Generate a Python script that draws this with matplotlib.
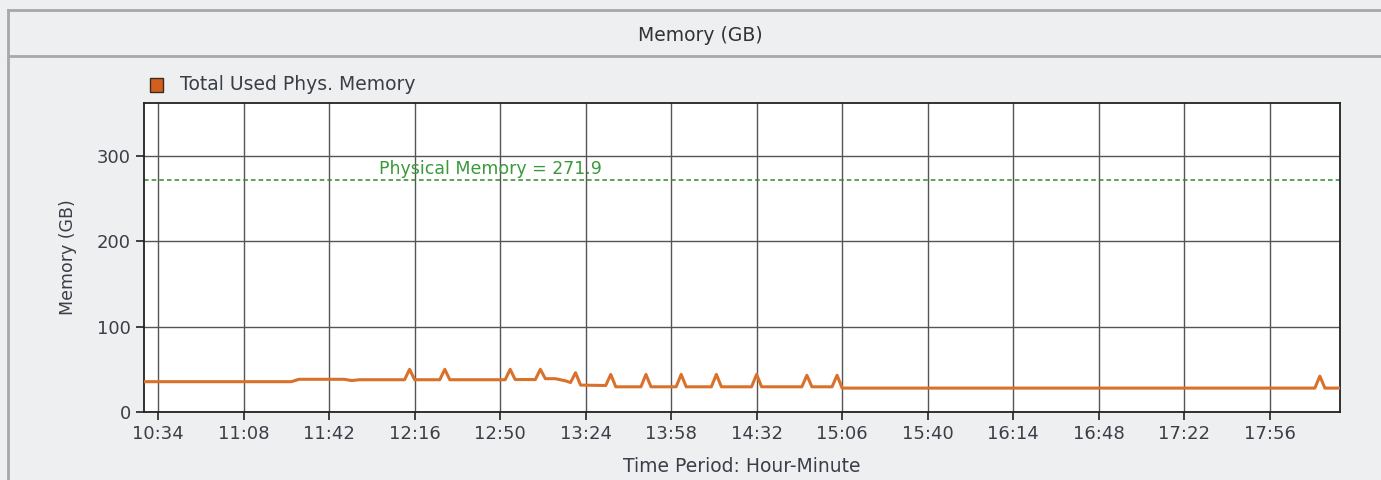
import matplotlib.pyplot as plt
from matplotlib.lines import Line2D
from matplotlib.patches import Rectangle

# used memory samples (time, GB)
times = ["10:28", "11:27", "11:30", "11:48", "11:51", "11:54", "12:12", "12:14", "12:16",
         "12:26", "12:28", "12:30", "12:52", "12:54", "12:56", "13:04", "13:06", "13:08",
         "13:12", "13:16", "13:18", "13:20", "13:22", "13:32", "13:34", "13:36", "13:46",
         "13:48", "13:50", "14:00", "14:02", "14:04", "14:14", "14:16", "14:18", "14:30",
         "14:32", "14:34", "14:50", "14:52", "14:54", "15:02", "15:04", "15:06", "18:14",
         "18:16", "18:18", "18:24"]
used_gb = [35.5, 35.5, 38.3, 38.3, 36.8, 37.8, 37.8, 50, 37.8,
           37.8, 50, 37.8, 37.8, 50, 38, 38, 50, 39,
           39, 36.5, 34.5, 46, 31.5, 31, 44, 29.5, 29.5,
           44, 29.5, 29.5, 44, 29.5, 29.5, 44, 29.5, 29.5,
           44, 29.5, 29.5, 43, 29.5, 29.5, 43, 28, 28,
           42, 28, 28]

physical_memory = 271.9
tick_labels = ["10:34", "11:08", "11:42", "12:16", "12:50", "13:24", "13:58",
               "14:32", "15:06", "15:40", "16:14", "16:48", "17:22", "17:56"]
y_ticks = [0, 100, 200, 300]


def to_min(s):
    h, m = s.split(":")
    return int(h) * 60 + int(m)


x = [to_min(t) for t in times]
xt = [to_min(t) for t in tick_labels]

bg = "#eeeff1"
txt = "#3a3f47"
orange = "#d9712b"

fig = plt.figure(figsize=(13.81, 4.80), dpi=100, facecolor=bg)

# panel frame: left/top border and title separator
fig.add_artist(Line2D([0.0058, 0.0058], [0, 0.979], color="#a8a8a8", lw=2))
fig.add_artist(Line2D([0.0058, 1], [0.979, 0.979], color="#a8a8a8", lw=2))
fig.add_artist(Line2D([0.0058, 1], [0.883, 0.883], color="#a8a8a8", lw=2))
fig.text(0.507, 0.927, "Memory (GB)", ha="center", va="center", fontsize=13.5,
         color="#333333")

ax = fig.add_axes([0.1043, 0.1417, 0.866, 0.6437])
ax.set_facecolor("white")
ax.plot(x, used_gb, color=orange, lw=2.2, solid_joinstyle="round", zorder=3)
ax.axhline(physical_memory, color="#2e8b2e", lw=1.1, ls=(0, (3, 2)), zorder=2)
ax.text(to_min("12:46"), physical_memory + 2, "Physical Memory = 271.9",
        ha="center", va="bottom", fontsize=12.5, color="#3a9a3a")

ax.set_xlim(628.4, 1104)
ax.set_ylim(0, 362)
ax.set_xticks(xt)
ax.set_xticklabels(tick_labels)
ax.set_yticks(y_ticks)
ax.grid(True, color="#555555", lw=1)
ax.set_axisbelow(True)
ax.tick_params(axis="both", labelsize=13, labelcolor=txt, color="#222222",
               length=6, width=1.2)
for s in ax.spines.values():
    s.set_color("#222222")
    s.set_linewidth(1.3)

ax.set_ylabel("Memory (GB)", fontsize=12.5, color=txt, labelpad=14)
ax.set_xlabel("Time Period: Hour-Minute", fontsize=13.5, color=txt, labelpad=10)

# legend swatch above the plot
fig.add_artist(Rectangle((150 / 1381, 1 - 92 / 480), 13 / 1381, 14 / 480,
                         transform=fig.transFigure, facecolor="#d35f1f",
                         edgecolor="#3a2a20", lw=1))
fig.text(180 / 1381, 1 - 85 / 480, "Total Used Phys. Memory", ha="left",
         va="center", fontsize=13.5, color=txt)

fig.savefig("out.png", dpi=100, facecolor=bg)
